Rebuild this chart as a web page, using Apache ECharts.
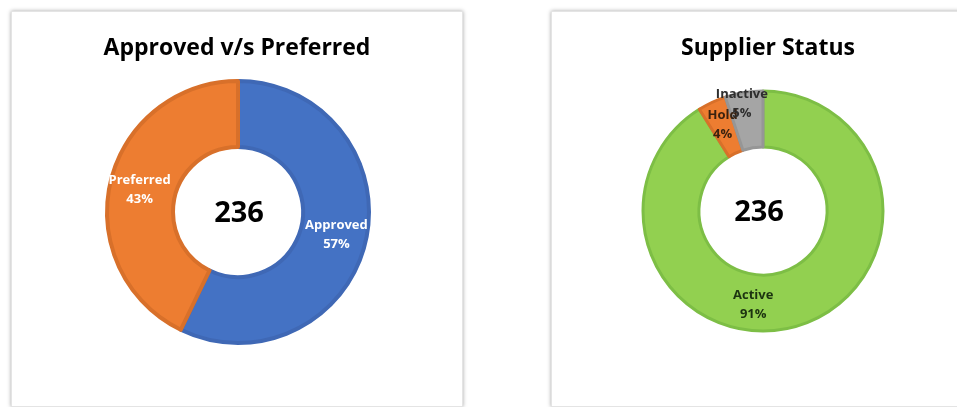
<!DOCTYPE html>
<html>
<head>
<meta charset="utf-8">
<script src="https://cdn.jsdelivr.net/npm/echarts@6/dist/echarts.min.js"></script>
<style>
  html, body { margin: 0; padding: 0; background: #fff; width: 957px; height: 407px; overflow: hidden; }
  .card {
    position: absolute;
    top: 11px;
    height: 394px;
    background: #fff;
    border: 1px solid #e4e4e4;
    box-shadow: 0 0 4px rgba(0, 0, 0, 0.35);
  }
  #card1 { left: 11px; width: 450px; }
  #card2 { left: 551px; width: 432px; }
  .chart { width: 100%; height: 100%; }
</style>
</head>
<body>
<div class="card" id="card1"><div class="chart" id="chart1"></div></div>
<div class="card" id="card2"><div class="chart" id="chart2"></div></div>
<script>
// Approved v/s Preferred
const approvalNames = ['Approved', 'Preferred']
const approvalValues = [135, 101]
const approvalColors = ['#4472C4', '#ED7D31']
const approvalBorders = ['#3F68B5', '#D8702A']

// Supplier Status
const statusNames = ['Active', 'Hold', 'Inactive']
const statusValues = [215, 9, 12]
const statusColors = ['#92D050', '#ED7D31', '#A5A5A5']
const statusBorders = ['#7DBE45', '#D8702A', '#969696']

const totalCount = 236

const titleFont = { fontFamily: 'Open Sans', fontWeight: 'bold', fontSize: 23, color: '#000' }

const buildOption = (title, names, values, colors, borders, cfg) => ({
  animation: false,
  title: {
    text: title,
    left: 'center',
    top: 20,
    textStyle: titleFont
  },
  graphic: [
    {
      type: 'text',
      x: cfg.center[0] + cfg.totalDx,
      y: cfg.center[1] + 2,
      style: {
        text: String(totalCount),
        font: 'bold 29px "Open Sans"',
        fill: '#000',
        textAlign: 'center',
        textVerticalAlign: 'middle'
      }
    }
  ],
  series: [
    {
      type: 'pie',
      center: cfg.center,
      radius: cfg.radius,
      startAngle: 90,
      clockwise: true,
      avoidLabelOverlap: false,
      itemStyle: {
        borderWidth: cfg.borderWidth
      },
      label: {
        show: true,
        position: 'inside',
        formatter: (p) => p.name + '\n' + Math.round(p.percent) + '%',
        fontFamily: 'Open Sans',
        fontWeight: 'bold',
        fontSize: 13,
        lineHeight: 19,
        color: cfg.labelColor
      },
      // small nudges so labels sit where the original put them
      labelLayout: (params) => (cfg.labelShift[params.dataIndex] || {}),
      labelLine: { show: false },
      data: names.map((name, i) => ({
        name: name,
        value: values[i],
        itemStyle: { color: colors[i], borderColor: borders[i] },
        label: cfg.labelColors ? { color: cfg.labelColors[i] } : {}
      }))
    }
  ]
})

const chart1 = echarts.init(document.getElementById('chart1'))
chart1.setOption(buildOption('Approved v/s Preferred', approvalNames, approvalValues, approvalColors, approvalBorders, {
  center: [226, 200],
  radius: [65, 131],
  borderWidth: 4,
  totalDx: 1,
  labelColor: '#fff',
  labelShift: []
}))

const chart2 = echarts.init(document.getElementById('chart2'))
chart2.setOption(buildOption('Supplier Status', statusNames, statusValues, statusColors, statusBorders, {
  center: [211, 199],
  radius: [64, 120],
  borderWidth: 3,
  totalDx: -4,
  labelColor: '#1f2a14',
  labelColors: ['#1c3310', '#3a220f', '#2e2e2e'],
  labelShift: [{ dx: -36, dy: 2 }, {}, { dx: -6, dy: -13 }]
}))
</script>
</body>
</html>
